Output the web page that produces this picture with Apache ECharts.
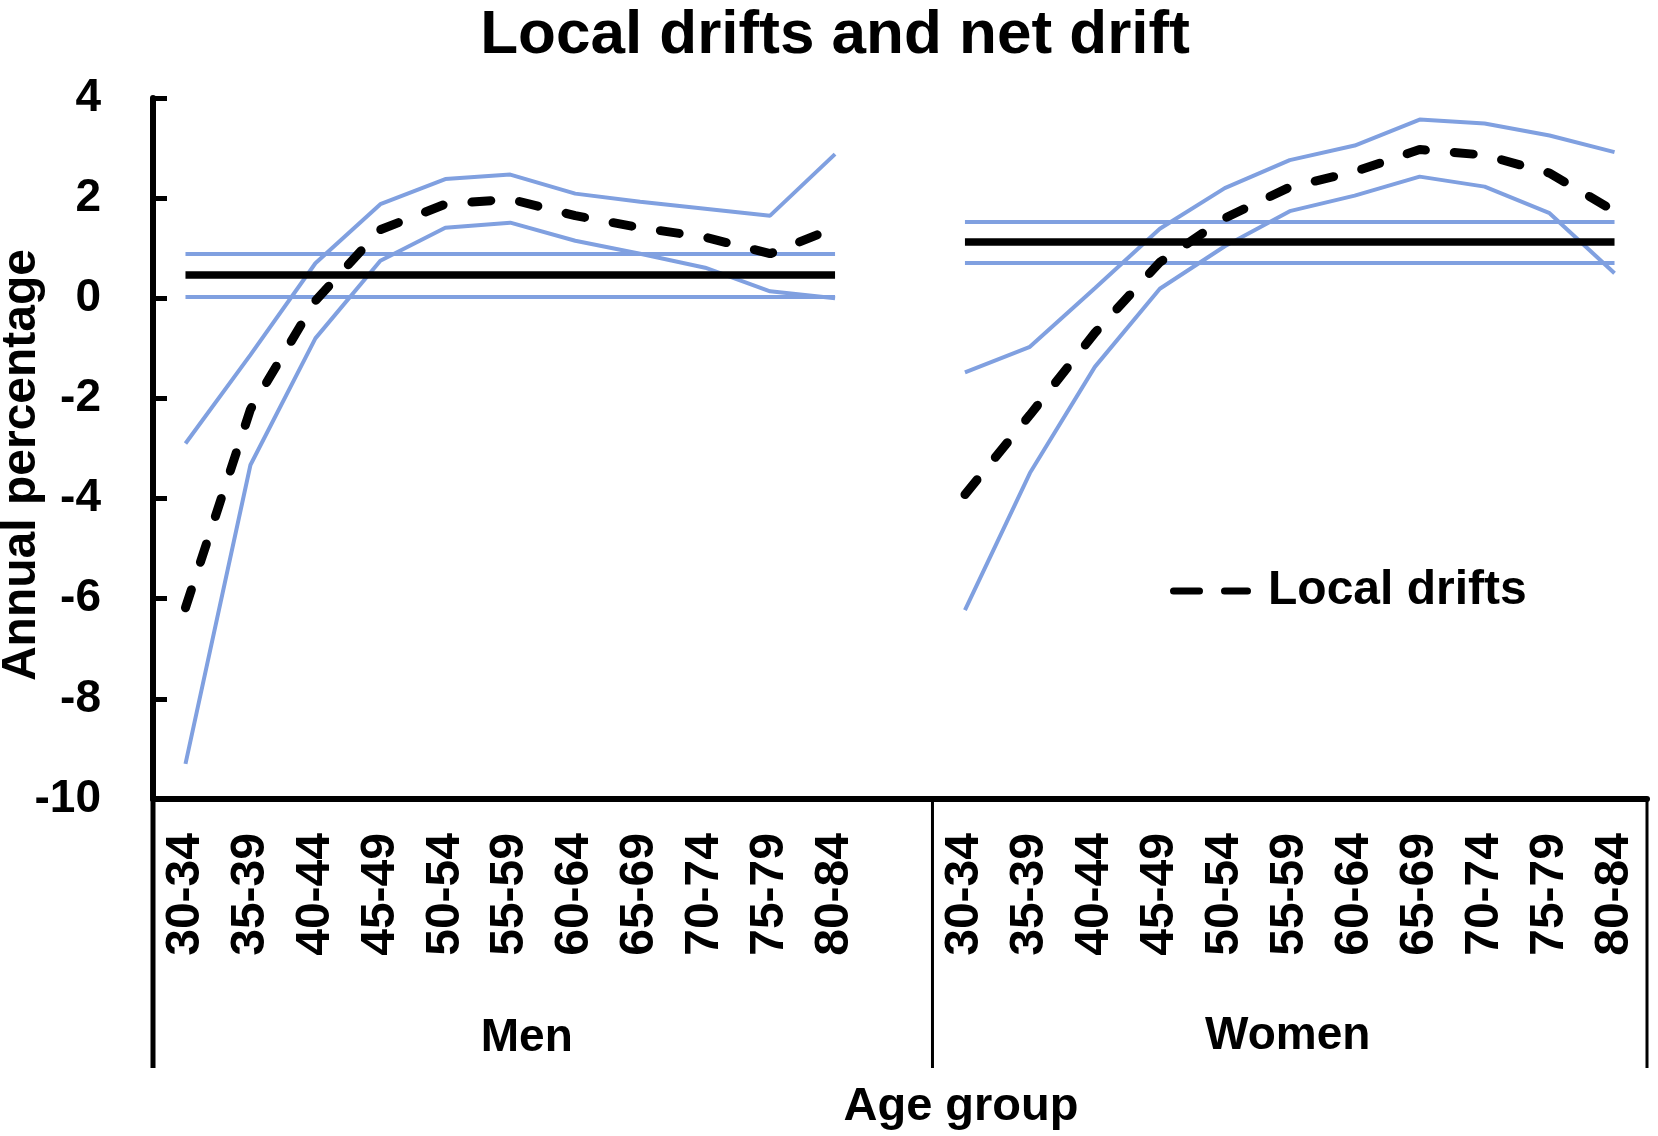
<!DOCTYPE html>
<html><head><meta charset="utf-8">
<script src="https://cdn.jsdelivr.net/npm/echarts@6/dist/echarts.min.js"></script>
<style>html,body{margin:0;padding:0;background:#fff}#c{width:1658px;height:1136px}</style>
</head><body><div id="c"></div>
<script>
// ---- data ----
const ageGroups = ['30-34','35-39','40-44','45-49','50-54','55-59','60-64','65-69','70-74','75-79','80-84'];
const groupNames = ['Men', 'Women'];
const yTicks = [-10, -8, -6, -4, -2, 0, 2, 4];

const menLocal   = [-6.18, -2.22, -0.05, 1.37, 1.88, 1.98, 1.65, 1.41, 1.22, 0.89, 1.41];
const menUpper   = [-2.9, -1.13, 0.7, 1.88, 2.38, 2.47, 2.09, 1.93, 1.79, 1.65, 2.88];
const menLower   = [-9.3, -3.33, -0.8, 0.75, 1.41, 1.51, 1.15, 0.89, 0.61, 0.14, 0.0];
const womenLocal = [-3.92, -2.33, -0.69, 0.72, 1.6, 2.22, 2.53, 2.97, 2.86, 2.5, 1.74];
const womenUpper = [-1.48, -0.97, 0.2, 1.39, 2.2, 2.76, 3.05, 3.57, 3.49, 3.25, 2.92];
const womenLower = [-6.23, -3.49, -1.37, 0.19, 1.04, 1.74, 2.05, 2.43, 2.23, 1.7, 0.5];

const menNet   = 0.47, menNetLower = 0.03, menNetUpper = 0.89;
const womenNet = 1.13, womenNetLower = 0.71, womenNetUpper = 1.53;

// ---- build ----
const categories = ageGroups.concat([''], ageGroups);
const join = (m, w) => m.concat([null], w);
const BLUE = '#80A0E0';
const FONT = 'Liberation Sans, Arial, sans-serif';
const menStart = 0, menEnd = ageGroups.length - 1;
const womenStart = ageGroups.length + 1, womenEnd = categories.length - 1;

function hline(i0, i1, v, color, width) {
  return [{coord: [i0, v], lineStyle: {color: color, width: width, type: 'solid'}}, {coord: [i1, v]}];
}

const chart = echarts.init(document.getElementById('c'), null, {renderer: 'canvas'});
const option = {
  animation: false,
  backgroundColor: '#fff',
  grid: {left: 153, right: 11, top: 98, bottom: 337, containLabel: false},
  legend: {
    data: ['Local drifts'],
    left: 1165, top: 562,
    icon: 'path://M3.5 0h26a3.5 3.5 0 0 1 0 7h-26a3.5 3.5 0 0 1 0-7z M54.5 0h23a3.5 3.5 0 0 1 0 7h-23a3.5 3.5 0 0 1 0-7z',
    itemWidth: 81, itemHeight: 7,
    itemStyle: {color: '#000', borderWidth: 0},
    textStyle: {fontFamily: FONT, fontWeight: 'bold', fontSize: 48, color: '#000', padding: [0, 0, 0, 12]},
    selectedMode: false
  },
  xAxis: {
    type: 'category',
    data: categories,
    boundaryGap: true,
    axisLine: {show: true, onZero: false, lineStyle: {color: '#000', width: 6}},
    axisTick: {show: false},
    splitLine: {show: false},
    axisLabel: {interval: 0, rotate: 90, margin: 34, fontFamily: FONT, fontWeight: 'bold', fontSize: 48, color: '#000'}
  },
  yAxis: {
    type: 'value',
    min: yTicks[0], max: yTicks[yTicks.length - 1], interval: 2,
    axisLine: {show: true, lineStyle: {color: '#000', width: 6}},
    axisTick: {show: true, inside: true, length: 14, lineStyle: {color: '#000', width: 5}},
    splitLine: {show: false},
    axisLabel: {margin: 52, fontFamily: FONT, fontWeight: 'bold', fontSize: 46, color: '#000'}
  },
  series: [
    {name: 'Upper CI', type: 'line', data: join(menUpper, womenUpper), symbol: 'none', connectNulls: false,
     lineStyle: {color: BLUE, width: 4}, z: 2},
    {name: 'Lower CI', type: 'line', data: join(menLower, womenLower), symbol: 'none', connectNulls: false,
     lineStyle: {color: BLUE, width: 4}, z: 2},
    {name: 'Net drift', type: 'line', data: [], symbol: 'none', z: 3,
     markLine: {silent: true, symbol: 'none', label: {show: false}, animation: false,
       data: [
         hline(menStart, menEnd, menNetUpper, BLUE, 4),
         hline(menStart, menEnd, menNetLower, BLUE, 4),
         hline(womenStart, womenEnd, womenNetUpper, BLUE, 4),
         hline(womenStart, womenEnd, womenNetLower, BLUE, 4),
         hline(menStart, menEnd, menNet, '#000', 7.5),
         hline(womenStart, womenEnd, womenNet, '#000', 7.5)
       ]}},
    {name: 'Local drifts', type: 'line', data: join(menLocal, womenLocal), symbol: 'none', connectNulls: false,
     lineStyle: {color: '#000', width: 9, type: [19, 29], cap: 'round'}, itemStyle: {color: '#000'}, z: 5}
  ]
};
chart.setOption(option);

// bracket lines & group labels placed relative to the axis
const p0 = chart.convertToPixel({xAxisIndex: 0}, 0);
const p1 = chart.convertToPixel({xAxisIndex: 0}, 1);
const slot = p1 - p0;
const xLeft = p0 - slot / 2;
const xMid = p0 + (ageGroups.length + 0.5) * slot;
const xRight = p0 + (categories.length - 0.5) * slot;
const yBase = chart.convertToPixel({yAxisIndex: 0}, yTicks[0]);
const yEnd = 1068;
const vline = (x, w) => ({type: 'line', shape: {x1: x, y1: yBase, x2: x, y2: yEnd}, style: {stroke: '#000', lineWidth: w}, silent: true});
const txt = (x, y, s, size, rot) => ({type: 'text', x: x, y: y, rotation: rot || 0,
  style: {text: s, fill: '#000', font: 'bold ' + size + 'px ' + FONT, textAlign: 'center', textVerticalAlign: 'middle'}, silent: true});

chart.setOption({
  graphic: [
    vline(xLeft, 5), vline(xMid, 3), vline(xRight, 3),
    txt((xLeft + xMid) / 2 - 16, 1038, groupNames[0], 46),
    txt((xMid + xRight) / 2 - 2, 1036, groupNames[1], 46),
    txt(961, 1107, 'Age group', 47),
    txt(835, 36, 'Local drifts and net drift', 62),
    txt(22, 465, 'Annual percentage', 48, Math.PI / 2)
  ]
});
</script></body></html>
